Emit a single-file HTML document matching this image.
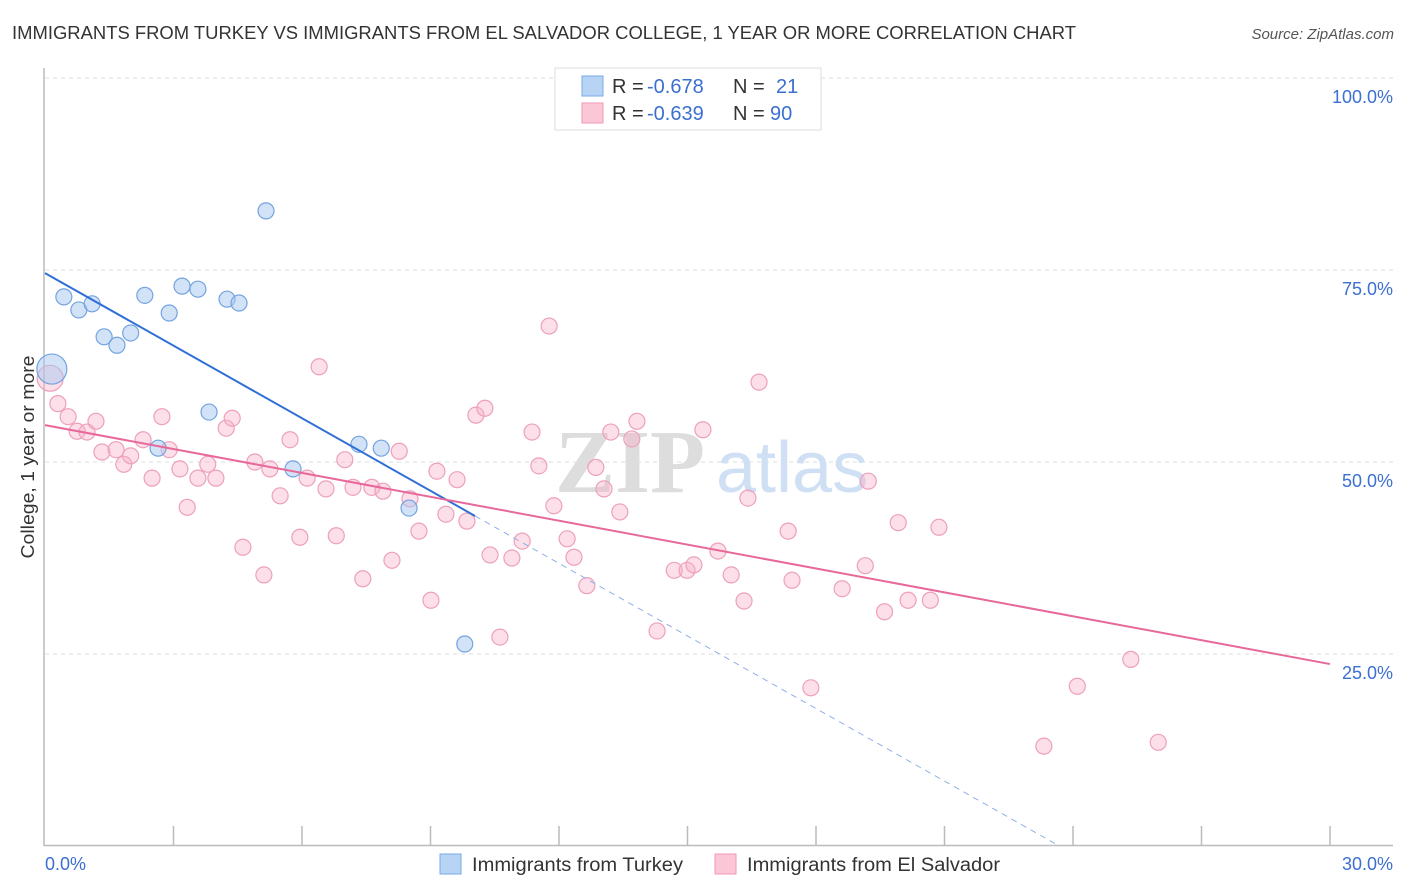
<!DOCTYPE html>
<html><head><meta charset="utf-8"><style>
body{margin:0;background:#fff;font-family:"Liberation Sans",sans-serif;}
svg{display:block}
</style></head><body>
<svg id="chart" width="1406" height="892" xmlns="http://www.w3.org/2000/svg" font-family="Liberation Sans, sans-serif">
<text x="12" y="39" font-size="18" fill="#333" textLength="1064" lengthAdjust="spacingAndGlyphs">IMMIGRANTS FROM TURKEY VS IMMIGRANTS FROM EL SALVADOR COLLEGE, 1 YEAR OR MORE CORRELATION CHART</text>
<text x="1394" y="39" font-size="15" fill="#555" font-style="italic" text-anchor="end">Source: ZipAtlas.com</text>
<g id="grid"></g>
<g><text x="555" y="492" font-size="90" font-family="Liberation Serif, serif" fill="#ddd" font-weight="bold">ZIP</text><text x="716" y="492" font-size="72" fill="#cfe0f5">atlas</text></g>
<g id="axes"></g>
<g id="marks"></g>
<text transform="translate(34,457) rotate(-90)" font-size="18" fill="#333" text-anchor="middle" textLength="203" lengthAdjust="spacingAndGlyphs">College, 1 year or more</text>
<g>
<rect x="555" y="68" width="266" height="62" fill="#fff" stroke="#ddd"/>
<rect x="582" y="76" width="21" height="20" fill="#b8d4f5" stroke="#7aaae6"/>
<rect x="582" y="103" width="21" height="20" fill="#fbc6d6" stroke="#ef9ab6"/>
<text x="612" y="93" font-size="20" fill="#333">R =</text>
<text x="647" y="93" font-size="20" fill="#3b6fd0">-0.678</text>
<text x="733" y="93" font-size="20" fill="#333">N =</text>
<text x="776" y="93" font-size="20" fill="#3b6fd0">21</text>
<text x="612" y="120" font-size="20" fill="#333">R =</text>
<text x="647" y="120" font-size="20" fill="#3b6fd0">-0.639</text>
<text x="733" y="120" font-size="20" fill="#333">N =</text>
<text x="770" y="120" font-size="20" fill="#3b6fd0">90</text>
</g>
<g>
<rect x="440" y="854" width="21" height="20" fill="#b8d4f5" stroke="#7aaae6"/>
<text x="472" y="871" font-size="19" fill="#333" textLength="211" lengthAdjust="spacingAndGlyphs">Immigrants from Turkey</text>
<rect x="715" y="854" width="21" height="20" fill="#fbc6d6" stroke="#ef9ab6"/>
<text x="747" y="871" font-size="19" fill="#333" textLength="253" lengthAdjust="spacingAndGlyphs">Immigrants from El Salvador</text>
</g>
</svg>
<script>
const yTicks=[25,50,75,100];
const yTickLabels=["25.0%","50.0%","75.0%","100.0%"];
const xTicks=[0,3,6,9,12,15,18,21,24,27,30];
const turkeyX=[0.16,0.44,0.79,1.1,1.38,1.68,2.0,2.33,2.9,3.2,3.57,4.25,4.53,5.16,3.83,2.64,5.79,7.33,7.85,8.5,9.8];
const turkeyY=[62.1,71.5,69.8,70.6,66.3,65.2,66.8,71.7,69.4,72.9,72.5,71.2,70.7,82.7,56.5,51.8,49.1,52.3,51.8,44.0,26.3];
const salvX=[0.12,0.3,0.54,0.75,0.98,1.19,1.33,1.66,1.84,2.0,2.29,2.5,2.73,2.9,3.15,3.32,3.57,3.8,3.99,4.23,4.37,4.62,4.9,5.11,5.25,5.49,5.72,5.95,6.12,6.4,6.56,6.8,7.0,7.19,7.42,7.63,7.89,8.1,8.27,8.52,8.73,9.01,9.15,9.36,9.62,9.85,10.06,10.27,10.39,10.62,10.9,11.14,11.37,11.53,11.77,11.88,12.19,12.35,12.65,12.86,13.05,13.21,13.42,13.7,13.82,14.29,14.69,14.99,15.15,15.36,15.71,16.02,16.32,16.41,16.67,17.35,17.44,17.88,18.61,19.15,19.22,19.6,19.92,20.15,20.67,20.87,23.32,24.1,25.35,25.99];
const salvY=[60.9,57.6,55.9,54.0,53.9,55.3,51.3,51.6,49.7,50.8,52.9,47.9,55.9,51.6,49.1,44.1,47.9,49.7,47.9,54.4,55.7,38.9,50.0,35.3,49.1,45.6,52.9,40.2,47.9,62.4,46.5,40.4,50.3,46.7,34.8,46.7,46.2,37.2,51.4,45.2,41.0,32.0,48.8,43.2,47.7,42.3,56.1,57.0,37.9,27.2,37.5,39.7,53.9,49.5,67.7,44.3,40.0,37.6,33.9,49.3,46.5,53.9,43.5,53.0,55.3,28.0,35.9,35.9,36.6,54.2,38.4,35.3,31.9,45.3,60.4,41.0,34.6,20.6,33.5,36.5,47.5,30.5,42.1,32.0,32.0,41.5,13.0,20.8,24.3,13.5];
const turkeyTrend=[74.6,-3.15];
const salvTrend=[54.8,-1.037];
const NS="http://www.w3.org/2000/svg";
const X0=45,X1=1330,Y0=846,Y100=78;
const xs=v=>X0+(X1-X0)*v/30;
const ys=v=>Y0-(Y0-Y100)*v/100;
function mk(tag,attrs,parent){const e=document.createElementNS(NS,tag);for(const k in attrs)e.setAttribute(k,attrs[k]);parent.appendChild(e);return e;}
const grid=document.getElementById('grid'),axes=document.getElementById('axes'),marks=document.getElementById('marks');
yTicks.forEach((t,i)=>{
 const l=mk('line',{x1:45,x2:1393,y1:ys(t),y2:ys(t),stroke:'#ddd','stroke-dasharray':'4,4'},grid);
 
 
 const tx=mk('text',{x:1393,y:ys(t)+25,'font-size':18,fill:'#3b6fd0','text-anchor':'end'},axes);
 tx.textContent=yTickLabels[i];
 
 
});
mk('line',{x1:44,x2:44,y1:68,y2:846,stroke:'#bbb','stroke-width':1.5},axes);
mk('line',{x1:44,x2:1393,y1:845.5,y2:845.5,stroke:'#bbb','stroke-width':1.5},axes);
xTicks.forEach(t=>{if(t===0)return;const l=mk('line',{x1:xs(t),x2:xs(t),y1:826,y2:846,stroke:'#bbb','stroke-width':1.5},axes);
 
 });
const a=mk('text',{x:45,y:870,'font-size':18,fill:'#3b6fd0'},axes);a.textContent='0.0%';


const b=mk('text',{x:1393,y:870,'font-size':18,fill:'#3b6fd0','text-anchor':'end'},axes);b.textContent='30.0%';


salvX.forEach((x,i)=>{const c=mk('circle',{cx:xs(x),cy:ys(salvY[i]),r:i===0?13:8,fill:'rgba(247,176,200,0.4)',stroke:'#eda0bb','stroke-width':1.2},marks);
 
 });
turkeyX.forEach((x,i)=>{const c=mk('circle',{cx:xs(x),cy:ys(turkeyY[i]),r:i===0?15:8,fill:'rgba(168,200,240,0.5)',stroke:'#74a3e0','stroke-width':1.2},marks);
 
 });
const tEnd=10.04,tZero=-turkeyTrend[0]/turkeyTrend[1];
const tl=mk('line',{x1:xs(0),y1:ys(turkeyTrend[0]),x2:xs(tEnd),y2:ys(turkeyTrend[0]+turkeyTrend[1]*tEnd),stroke:'#2f6fd6','stroke-width':2},marks);


const td=mk('line',{x1:xs(tEnd),y1:ys(turkeyTrend[0]+turkeyTrend[1]*tEnd),x2:xs(tZero),y2:ys(0),stroke:'#8fb0e6','stroke-width':1,'stroke-dasharray':'6,5'},marks);


const sl=mk('line',{x1:xs(0),y1:ys(salvTrend[0]),x2:xs(30),y2:ys(salvTrend[0]+salvTrend[1]*30),stroke:'#e8689a','stroke-width':2},marks);


</script>
</body></html>
